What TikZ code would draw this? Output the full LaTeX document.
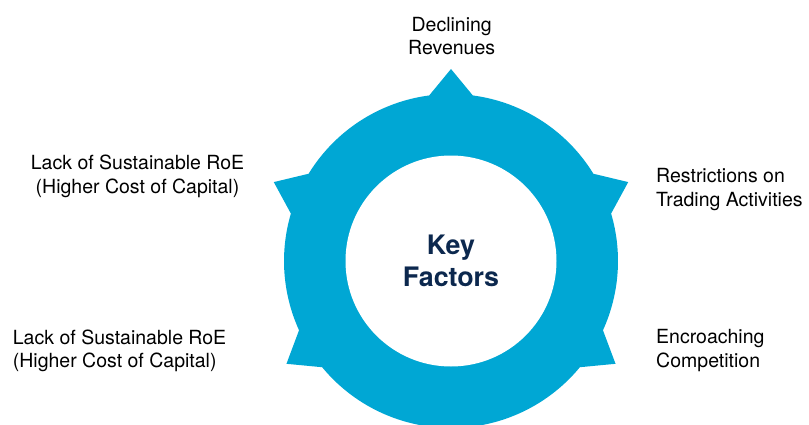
\documentclass[tikz,border=0pt]{standalone}
\usepackage{fontspec}
\setmainfont{TeX Gyre Heros}
\usepackage{tikz}

\definecolor{ringblue}{RGB}{0,167,212}
\definecolor{keynavy}{RGB}{12,40,78}

\tikzset{
    factor/.style={font=\fontsize{19.5}{23.5}\selectfont, inner sep=0pt},
}

\begin{document}
\begin{tikzpicture}[x=1pt, y=1pt]
    \useasboundingbox (0,0) rectangle (809,424);
    \coordinate (O) at (451,163);

    % ring with five points
    \fill[ringblue, shift={(O)}]
        (16.5:167) -- (24:194) -- (31.5:167)
        arc[start angle=31.5, end angle=82.5, radius=167]
        -- (90:192) -- (97.5:167)
        arc[start angle=97.5, end angle=148.5, radius=167]
        -- (156:194) -- (163.5:167)
        arc[start angle=163.5, end angle=204.5, radius=167]
        -- (212:194) -- (219.5:167)
        arc[start angle=219.5, end angle=320.5, radius=167]
        -- (328:194) -- (335.5:167)
        arc[start angle=335.5, end angle=376.5, radius=167]
        -- cycle;
    \fill[white] (O) circle (105.5);

    \node[font=\bfseries\fontsize{26.8}{32.5}\selectfont, text=keynavy,
        align=center] (key) at (O) {Key\\Factors};

    \node[factor, anchor=north, align=center] (revenues) at (451.7,407.3)
        {Declining\\Revenues};
    \node[factor, anchor=north west, align=left] (trading) at (656,255.7)
        {Restrictions on\\Trading Activities};
    \node[factor, anchor=north west, align=left] (competition) at (656,94.7)
        {Encroaching\\Competition};
    \node[factor, anchor=north, align=center] (roeup) at (137.5,269)
        {Lack of Sustainable RoE\\(Higher Cost of Capital)};
    \node[factor, anchor=north west, align=left] (roelow) at (12.7,94.7)
        {Lack of Sustainable RoE\\(Higher Cost of Capital)};
\end{tikzpicture}
\end{document}
